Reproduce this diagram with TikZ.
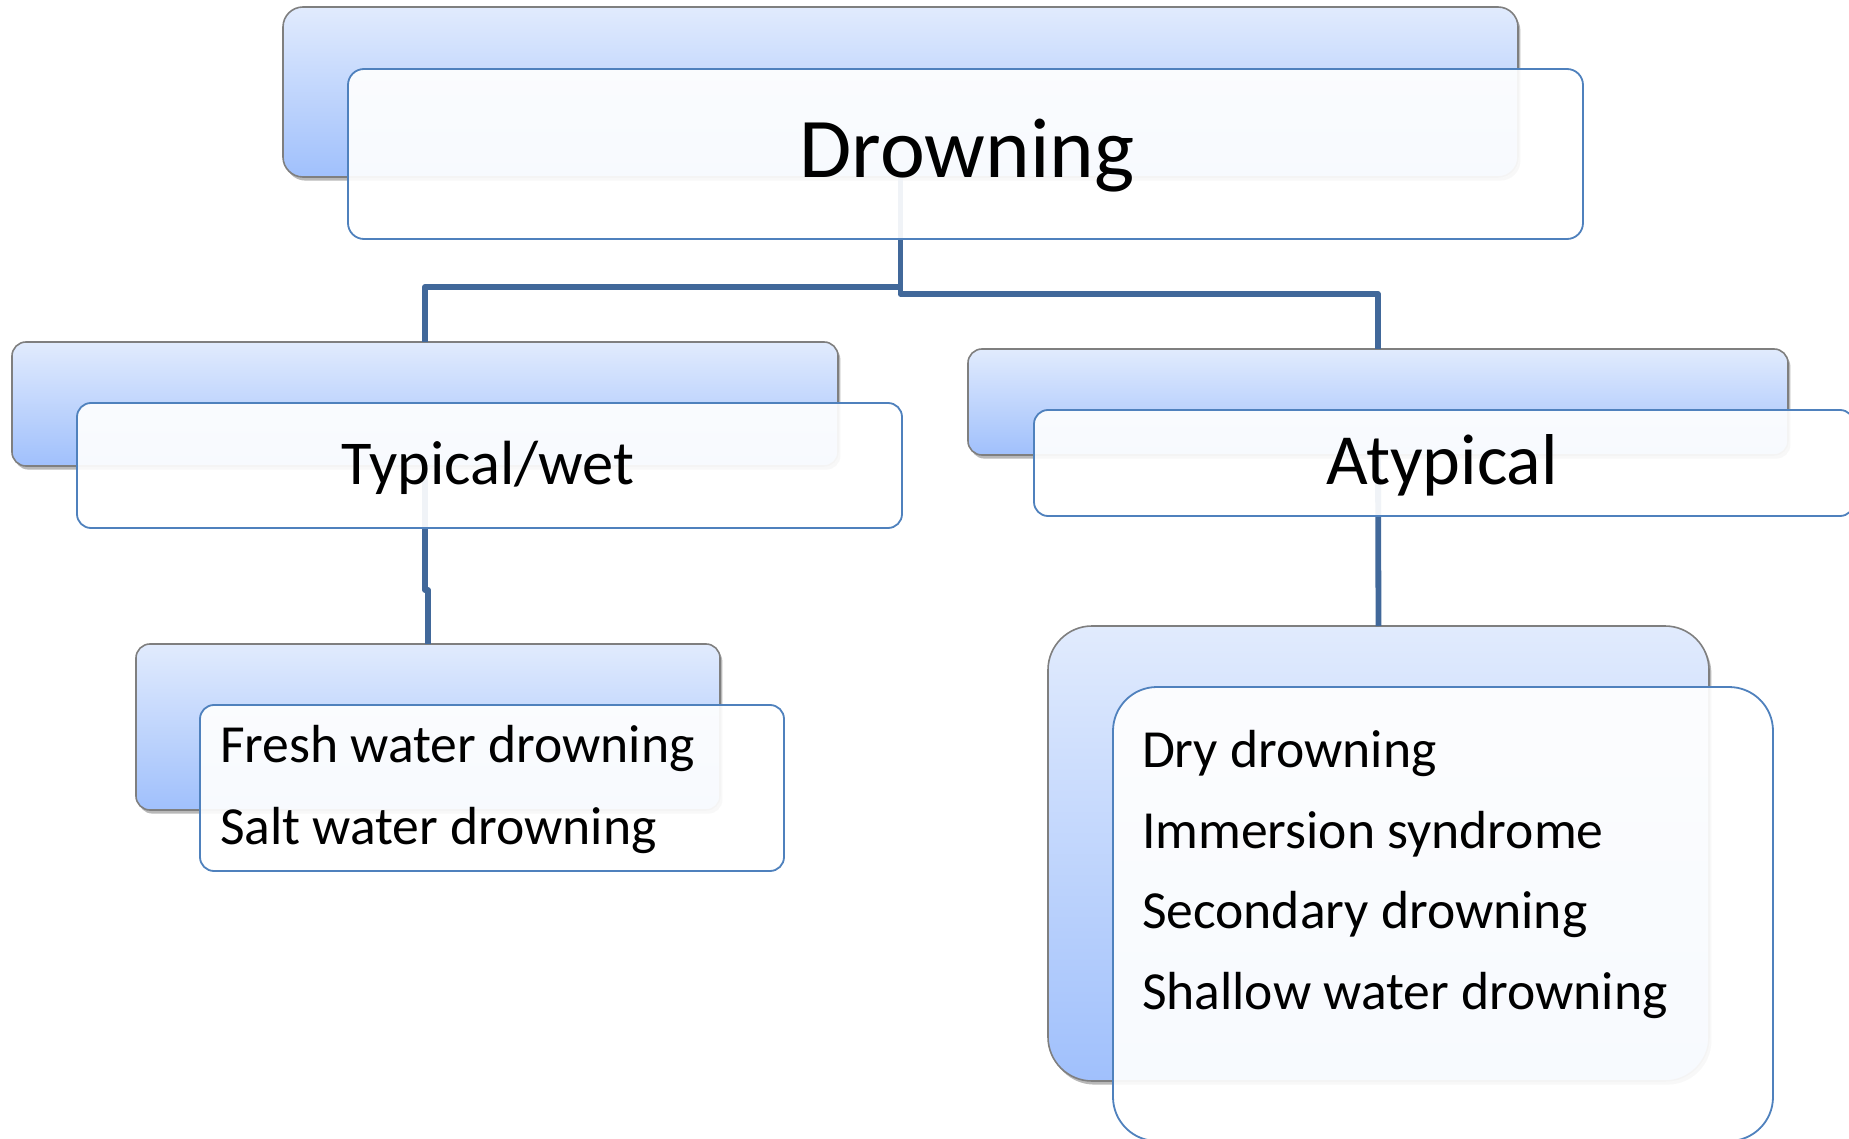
\documentclass[tikz,border=0pt]{standalone}
\usepackage{fontspec}
\setmainfont{Carlito}
\usetikzlibrary{shadows}
\definecolor{backtop}{HTML}{E1EBFD}
\definecolor{backbot}{HTML}{A0C0FC}
\definecolor{backline}{HTML}{7F7F7F}
\definecolor{frontline}{HTML}{4F81BD}
\definecolor{connc}{HTML}{41689A}
\newcommand\bx[7]{% style, name, x1,y1,x2,y2, radius
  \node[#1, rounded corners=#7, minimum width={(#5-#3)*0.5pt}, minimum height={(#6-#4)*0.5pt}] (#2) at ({(#3+#5)/2},{(#4+#6)/2}) {};}
\begin{document}
\begin{tikzpicture}[x=0.5pt,y=-0.5pt,
  backbox/.style={draw=backline, line width=0.8pt, top color=backtop, bottom color=backbot,
    inner sep=0pt, outer sep=0pt,
    drop shadow={shadow xshift=1.2pt, shadow yshift=-1.8pt, opacity=0.28, fill=black}},
  frontbox/.style={draw=frontline, line width=0.9pt, fill=white, fill opacity=0.92,
    draw opacity=1, inner sep=0pt, outer sep=0pt},
  conn/.style={draw=connc, line width=2.9pt, line join=round},
  lbl/.style={inner sep=0pt, outer sep=0pt, text=black}]
\useasboundingbox (0,0) rectangle (1849,1139);
% back boxes
\bx{backbox}{b0}{283}{7}{1518}{177}{10pt}
\bx{backbox}{b1}{12}{342}{838}{466}{7pt}
\bx{backbox}{b2}{968}{349}{1788}{455}{7pt}
\bx{backbox}{b3}{136}{644}{720}{810}{7pt}
\bx{backbox}{b4}{1048}{626}{1709}{1081}{22pt}
% connectors
\coordinate (jL) at (0,287);
\coordinate (jR) at (0,294);
\coordinate (jT) at (0,590);
\draw[conn] (b0.south) -- (b0.south |- jL) -| (b1.north);
\draw[conn] (b0.south) -- (b0.south |- jR) -| (b2.north);
\draw[conn] (b1.south) -- (b1.south |- jT) -- (b3.north |- jT) -- (b3.north);
\draw[conn] (b2.south) -- (b4.north);
% front boxes
\bx{frontbox}{f0}{348}{69}{1583}{239}{8pt}
\bx{frontbox}{f1}{77}{403}{902}{528}{7pt}
\bx{frontbox}{f2}{1034}{410}{1854}{516}{7pt}
\bx{frontbox}{f3}{200}{705}{784}{871}{7pt}
\bx{frontbox}{f4}{1113}{687}{1773}{1141}{22pt}
% texts
\node[lbl, anchor=base, font=\fontsize{42.5pt}{50pt}\selectfont] (t0) at (967,178) {Drowning};
\node[lbl, anchor=base, font=\fontsize{31.2pt}{37pt}\selectfont] (t1) at (488,484) {Typical/wet};
\node[lbl, anchor=base, font=\fontsize{36pt}{43pt}\selectfont] (t2) at (1442,484) {Atypical};
\tikzset{listtxt/.style={lbl, anchor=base west, font=\fontsize{26.8pt}{32pt}\selectfont}}
\node[listtxt] (t3a) at (220,762) {Fresh water drowning};
\node[listtxt] (t3b) at (220,844) {Salt water drowning};
\node[listtxt] (t4a) at (1142,767) {Dry drowning};
\node[listtxt] (t4b) at (1142,848) {Immersion syndrome};
\node[listtxt] (t4c) at (1142,928) {Secondary drowning};
\node[listtxt] (t4d) at (1142,1009) {Shallow water drowning};
\end{tikzpicture}
\end{document}
